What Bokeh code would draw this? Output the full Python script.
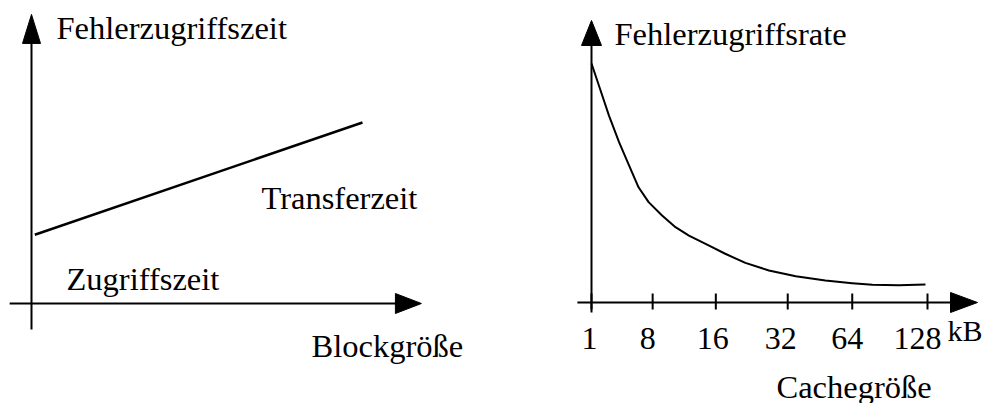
from bokeh.plotting import figure
from bokeh.models import Range1d, Label, ColumnDataSource
from bokeh.layouts import row
from bokeh.embed import file_html
from bokeh.resources import INLINE
from bokeh.core.properties import value

# ---------------- data ----------------
# Left diagram: Fehlerzugriffszeit vs Blockgröße (schematic, arbitrary units)
block_size = [0.1, 10.0]
miss_penalty = [3.8, 10.0]

# Right diagram: Fehlerzugriffsrate vs Cachegröße
cache_tick_labels = ["1", "8", "16", "32", "64", "128"]
cache_tick_pos = [0.0, 0.91, 1.85, 2.92, 3.88, 5.0]
cache_x = [0.0, 0.11, 0.26, 0.41, 0.56, 0.70, 0.85, 1.05, 1.25, 1.45, 1.75,
           1.99, 2.29, 2.64, 3.04, 3.48, 3.88, 4.18, 4.57, 4.97]
miss_rate = [100, 90.8, 78.2, 67.1, 57.3, 48.2, 42.0, 36.4, 31.5, 28.0, 23.8,
             20.4, 16.6, 13.4, 11.0, 9.2, 8.1, 7.4, 7.2, 7.5]

# ---------------- styling ----------------
H = 403
FONT = "Liberation Serif"
FS = "32.5px"
TICK_FS = "32px"
UNIT_FS = "30px"
AX_W = 2
DY = 12  # baseline correction for rendered text


def make_panel(width, ox, oy, kx, ky):
    """ox, oy: frame pixel of the data origin (oy from top); kx, ky: px per data unit."""
    xr = Range1d(-ox / kx, (width - ox) / kx)
    yr = Range1d(-(H - oy) / ky, oy / ky)
    p = figure(width=width, height=H, x_range=xr, y_range=yr,
               output_backend="svg", toolbar_location=None,
               x_axis_type=None, y_axis_type=None, min_border=0)
    p.grid.visible = False
    p.outline_line_color = None
    p.background_fill_color = "white"
    p.border_fill_color = "white"
    return p


def arrow_up(p, x0, y0, y_tip, head_len, head_w, kx, ky):
    base = y_tip - head_len / ky
    p.line([x0, x0], [y0, base + 1 / ky], line_width=AX_W, line_color="black")
    p.patch([x0 - head_w / 2 / kx, x0, x0 + head_w / 2 / kx], [base, y_tip, base],
            fill_color="black", line_color="black", line_width=1)


def arrow_right(p, y0, x0, x_tip, head_len, head_h, kx, ky):
    base = x_tip - head_len / kx
    p.line([x0, base + 1 / kx], [y0, y0], line_width=AX_W, line_color="black")
    p.patch([base, x_tip, base], [y0 - head_h / 2 / ky, y0, y0 + head_h / 2 / ky],
            fill_color="black", line_color="black", line_width=1)


def label(p, text, sx, sy, size=FS):
    p.add_layout(Label(x=sx, y=sy + DY, x_units="screen", y_units="screen", text=text,
                       text_font=FONT, text_font_size=size, text_color="black",
                       text_align="left", text_baseline="alphabetic"))


# ---------------- left panel ----------------
LW = 490
kx1, ky1 = 33.1, 18.1
p1 = make_panel(LW, 31, 303, kx1, ky1)
arrow_up(p1, 0, -1.44, 15.97, 29, 18, kx1, ky1)
arrow_right(p1, 0, -0.66, 11.78, 26, 20, kx1, ky1)
p1.line(block_size, miss_penalty, line_width=2.5, line_color="black")
label(p1, "Fehlerzugriffszeit", 56, 364)
label(p1, "Transferzeit", 261, 194)
label(p1, "Zugriffszeit", 66, 113)
label(p1, "Blockgröße", 311, 46)

# ---------------- right panel ----------------
RW = 495
kx2, ky2 = 67.2, 2.39
p2 = make_panel(RW, 101, 302, kx2, ky2)
arrow_up(p2, 0, -4.18, 118.0, 25, 20, kx2, ky2)
arrow_right(p2, 0, -0.21, 5.744, 27, 20, kx2, ky2)
p2.segment(x0=cache_tick_pos, y0=[9 / ky2] * len(cache_tick_pos),
           x1=cache_tick_pos, y1=[-7 / ky2] * len(cache_tick_pos),
           line_width=AX_W, line_color="black")
p2.line(cache_x, miss_rate, line_width=2, line_color="black", line_join="round")

tick_src = ColumnDataSource(dict(
    x=cache_tick_pos, y=[0] * len(cache_tick_pos), text=cache_tick_labels,
    dx=[-2, -5, -3, -7, -5, -10]))
p2.text(x="x", y="y", text="text", x_offset="dx", y_offset=48 - DY, source=tick_src,
        text_font=value(FONT), text_font_size=value(TICK_FS), text_color="black",
        text_align="center", text_baseline="alphabetic")
label(p2, "Fehlerzugriffsrate", 124, 358)
label(p2, "kB", 457, 61, UNIT_FS)
label(p2, "Cachegröße", 286, 5)

layout = row(p1, p2, spacing=0)
open("out.html", "w").write(file_html(layout, INLINE))
